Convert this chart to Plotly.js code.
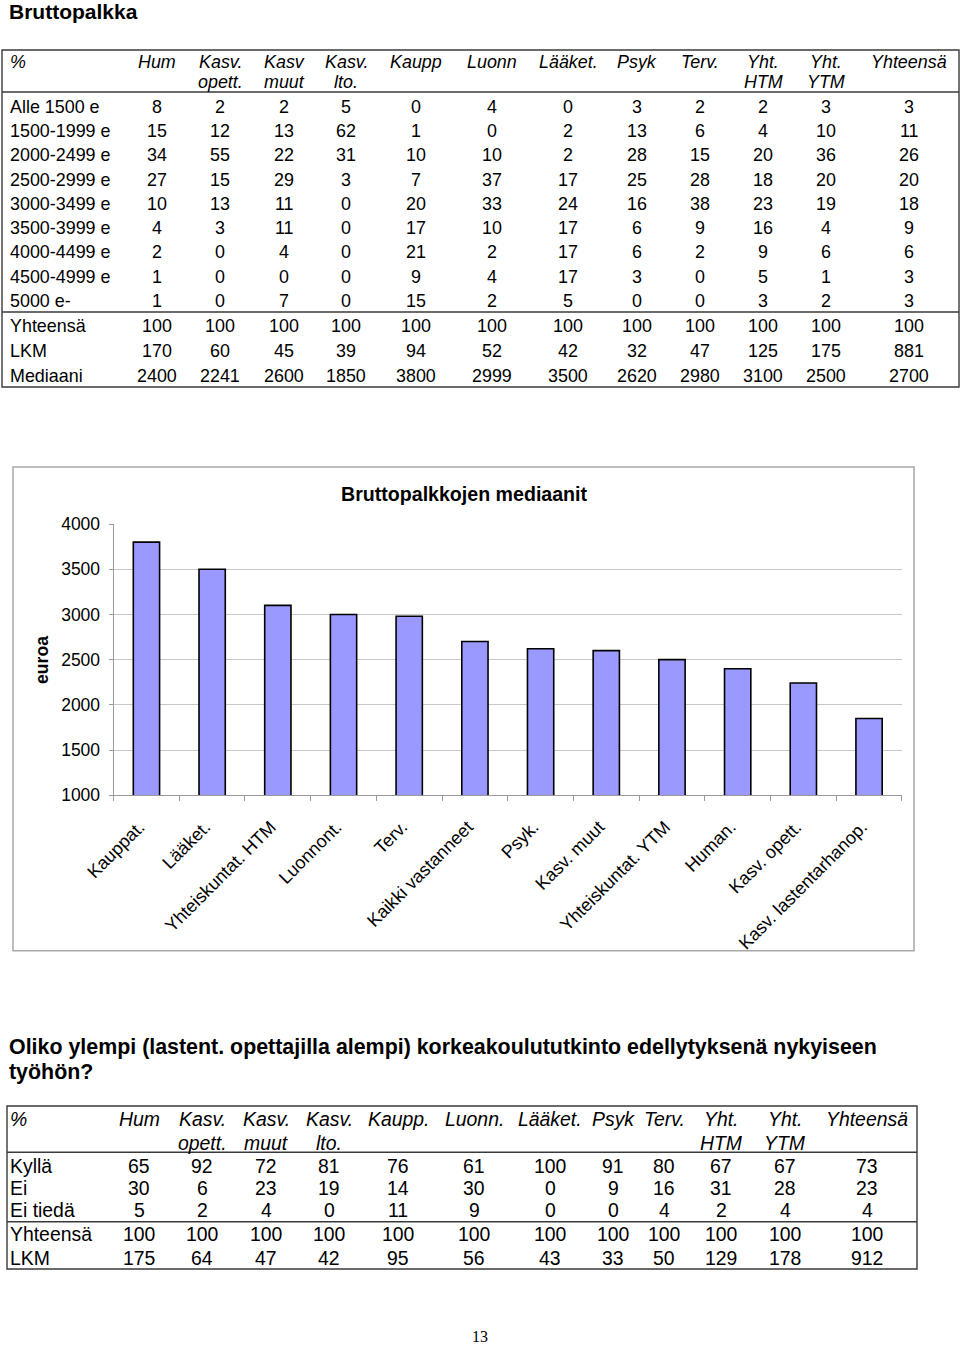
<!DOCTYPE html>
<html><head><meta charset="utf-8">
<script src="https://cdn.plot.ly/plotly-3.0.1.min.js"></script>
<style>html,body{margin:0;padding:0;background:#fff}#fig{width:960px;height:1347px}</style>
</head><body><div id="fig"></div>
<script>
// ---------------- DATA ----------------
// Table 1: Bruttopalkka (%)
const t1Header = [['%'], ['Hum'], ['Kasv.', 'opett.'], ['Kasv', 'muut'], ['Kasv.', 'lto.'], ['Kaupp'], ['Luonn'], ['Lääket.'], ['Psyk'], ['Terv.'], ['Yht.', 'HTM'], ['Yht.', 'YTM'], ['Yhteensä']];
const t1Brackets = ['Alle 1500 e', '1500-1999 e', '2000-2499 e', '2500-2999 e', '3000-3499 e', '3500-3999 e', '4000-4499 e', '4500-4999 e', '5000 e-'];
const t1Pct = [
  [8, 2, 2, 5, 0, 4, 0, 3, 2, 2, 3, 3],
  [15, 12, 13, 62, 1, 0, 2, 13, 6, 4, 10, 11],
  [34, 55, 22, 31, 10, 10, 2, 28, 15, 20, 36, 26],
  [27, 15, 29, 3, 7, 37, 17, 25, 28, 18, 20, 20],
  [10, 13, 11, 0, 20, 33, 24, 16, 38, 23, 19, 18],
  [4, 3, 11, 0, 17, 10, 17, 6, 9, 16, 4, 9],
  [2, 0, 4, 0, 21, 2, 17, 6, 2, 9, 6, 6],
  [1, 0, 0, 0, 9, 4, 17, 3, 0, 5, 1, 3],
  [1, 0, 7, 0, 15, 2, 5, 0, 0, 3, 2, 3]
];
const t1SummaryLabels = ['Yhteensä', 'LKM', 'Mediaani'];
const t1Total = [100, 100, 100, 100, 100, 100, 100, 100, 100, 100, 100, 100];
const t1Count = [170, 60, 45, 39, 94, 52, 42, 32, 47, 125, 175, 881];
const t1Median = [2400, 2241, 2600, 1850, 3800, 2999, 3500, 2620, 2980, 3100, 2500, 2700];

// Chart: Bruttopalkkojen mediaanit
const chartCategories = ['Kauppat.', 'Lääket.', 'Yhteiskuntat. HTM', 'Luonnont.', 'Terv.', 'Kaikki vastanneet', 'Psyk.', 'Kasv. muut', 'Yhteiskuntat. YTM', 'Human.', 'Kasv. opett.', 'Kasv. lastentarhanop.'];
const chartMedians = [3800, 3500, 3100, 2999, 2980, 2700, 2620, 2600, 2500, 2400, 2241, 1850];
const chartYTicks = [1000, 1500, 2000, 2500, 3000, 3500, 4000];

// Table 2: Oliko ylempi ... edellytyksenä (%)
const t2Header = [['%'], ['Hum'], ['Kasv.', 'opett.'], ['Kasv.', 'muut'], ['Kasv.', 'lto.'], ['Kaupp.'], ['Luonn.'], ['Lääket.'], ['Psyk'], ['Terv.'], ['Yht.', 'HTM'], ['Yht.', 'YTM'], ['Yhteensä']];
const t2Answers = ['Kyllä', 'Ei', 'Ei tiedä'];
const t2Pct = [
  [65, 92, 72, 81, 76, 61, 100, 91, 80, 67, 67, 73],
  [30, 6, 23, 19, 14, 30, 0, 9, 16, 31, 28, 23],
  [5, 2, 4, 0, 11, 9, 0, 0, 4, 2, 4, 4]
];
const t2SummaryLabels = ['Yhteensä', 'LKM'];
const t2Total = [100, 100, 100, 100, 100, 100, 100, 100, 100, 100, 100, 100];
const t2Count = [175, 64, 47, 42, 95, 56, 43, 33, 50, 129, 178, 912];

// ---------------- LAYOUT HELPERS ----------------
const W = 960, H = 1347;
const px = x => x / W;
const py = y => 1 - y / H;
const SANS = 'Liberation Sans, Arial, sans-serif';

const annotations = [];
const shapes = [];

function txt(text, x, y, size, opts) {
  opts = opts || {};
  annotations.push({
    text: text, x: px(x), y: py(y), xref: 'paper', yref: 'paper',
    xanchor: opts.xanchor || 'center', yanchor: opts.yanchor || 'middle',
    showarrow: false, textangle: opts.angle || 0,
    font: {family: opts.family || SANS, size: size, color: '#000'}
  });
}
function hline(x0, x1, y, color, width) {
  shapes.push({type: 'line', xref: 'paper', yref: 'paper', x0: px(x0), x1: px(x1), y0: py(y), y1: py(y), line: {color: color, width: width}});
}
function rect(x0, y0, x1, y1, color, width) {
  shapes.push({type: 'rect', xref: 'paper', yref: 'paper', x0: px(x0), x1: px(x1), y0: py(y0), y1: py(y1), line: {color: color, width: width}, fillcolor: 'rgba(0,0,0,0)'});
}

function buildTable(cfg) {
  cfg.header.forEach((lines, c) => {
    lines.forEach((ln, k) => {
      const t = '<i>' + ln + '</i>';
      if (c === 0) txt(t, cfg.labelX, cfg.headerY[k], cfg.size, {xanchor: 'left'});
      else txt(t, cfg.colX[c - 1], cfg.headerY[k], cfg.size);
    });
  });
  cfg.rows.forEach((row, r) => {
    txt(row.label, cfg.labelX, cfg.rowY[r], cfg.size, {xanchor: 'left'});
    row.values.forEach((v, c) => txt(String(v), cfg.colX[c], cfg.rowY[r], cfg.size));
  });
  rect(cfg.box[0], cfg.box[1], cfg.box[2], cfg.box[3], '#3a3a3a', 1.4);
  cfg.seps.forEach(y => hline(cfg.box[0], cfg.box[2], y, '#3a3a3a', 1.4));
}

// Page title
txt('<b>Bruttopalkka</b>', 7, 12, 21, {xanchor: 'left'});

// Table 1
const t1Rows = t1Brackets.map((lab, i) => ({label: lab, values: t1Pct[i]}))
  .concat([{label: t1SummaryLabels[0], values: t1Total}, {label: t1SummaryLabels[1], values: t1Count}, {label: t1SummaryLabels[2], values: t1Median}]);
const t1RowY = t1Brackets.map((_, i) => 106.7 + i * 24.3).concat([325.7, 351.2, 375.7]);
buildTable({
  header: t1Header, rows: t1Rows, size: 17.9, labelX: 8,
  colX: [157, 220, 284, 346, 416, 492, 568, 637, 700, 763, 826, 909],
  headerY: [62.3, 82.3], rowY: t1RowY,
  box: [2, 50, 959, 387], seps: [92, 312]
});

// Chart title and axis title
txt('<b>Bruttopalkkojen mediaanit</b>', 464, 494, 19.6);
txt('<b>euroa</b>', 42, 660, 17.6, {angle: -90});
// Chart frame
rect(13, 467, 914, 950.7, '#a8a8a8', 1.5);

// Second heading
txt('<b>Oliko ylempi (lastent. opettajilla alempi) korkeakoulututkinto edellytyksenä nykyiseen</b>', 7, 1046.7, 21.4, {xanchor: 'left'});
txt('<b>työhön?</b>', 7, 1071.7, 21.4, {xanchor: 'left'});

// Table 2
const t2Rows = t2Answers.map((lab, i) => ({label: lab, values: t2Pct[i]}))
  .concat([{label: t2SummaryLabels[0], values: t2Total}, {label: t2SummaryLabels[1], values: t2Count}]);
buildTable({
  header: t2Header, rows: t2Rows, size: 19.4, labelX: 8,
  colX: [139, 202, 266, 329, 398, 474, 550, 613, 664, 721, 785, 867],
  headerY: [1119.3, 1143.3], rowY: [1166, 1188, 1210, 1234, 1257.5],
  box: [7, 1106, 917, 1269], seps: [1152.3, 1221.7]
});

// Page number
txt('13', 480, 1336, 16, {family: 'Liberation Serif, Times New Roman, serif'});

// Hide the top gridline (Excel style: no gridline at the axis maximum)
shapes.push({type: 'line', xref: 'x domain', yref: 'y', x0: 0.005, x1: 1, y0: chartYTicks[chartYTicks.length - 1], y1: chartYTicks[chartYTicks.length - 1], line: {color: '#fff', width: 3}, layer: 'below'});

// ---------------- FIGURE ----------------
const trace = {
  type: 'bar', x: chartCategories, y: chartMedians,
  marker: {color: '#9999FF', line: {color: '#000000', width: 1.6}},
  hoverinfo: 'x+y'
};

const layout = {
  width: W, height: H,
  margin: {l: 0, r: 0, t: 0, b: 0, pad: 0},
  paper_bgcolor: '#fff', plot_bgcolor: '#fff',
  showlegend: false, bargap: 0.6,
  font: {family: SANS, color: '#000'},
  xaxis: {
    domain: [px(113.6), px(901.9)], anchor: 'y', type: 'category',
    tickvals: chartCategories, ticktext: chartCategories.map(c => c + '\u00a0\u00a0'),
    showgrid: false, showline: true, linecolor: '#9a9a9a', linewidth: 1,
    ticks: 'outside', tickson: 'boundaries', ticklen: 5, tickcolor: '#9a9a9a',
    tickangle: -45, tickfont: {family: SANS, size: 18, color: '#000'},
    ticklabelstandoff: 6,
    automargin: false, fixedrange: true
  },
  yaxis: {
    domain: [py(795.3), py(524)], anchor: 'x',
    range: [chartYTicks[0], chartYTicks[chartYTicks.length - 1]],
    tickvals: chartYTicks, ticktext: chartYTicks.map(String),
    showgrid: true, gridcolor: '#c8c8c8', gridwidth: 1,
    showline: true, linecolor: '#9a9a9a', linewidth: 1,
    ticks: 'outside', ticklen: 4, tickcolor: '#9a9a9a',
    tickfont: {family: SANS, size: 17.5, color: '#000'},
    ticklabelstandoff: 5,
    zeroline: false, automargin: false, fixedrange: true
  },
  annotations: annotations,
  shapes: shapes
};

Plotly.newPlot('fig', [trace], layout, {displayModeBar: false, staticPlot: true});
</script>
</body></html>
